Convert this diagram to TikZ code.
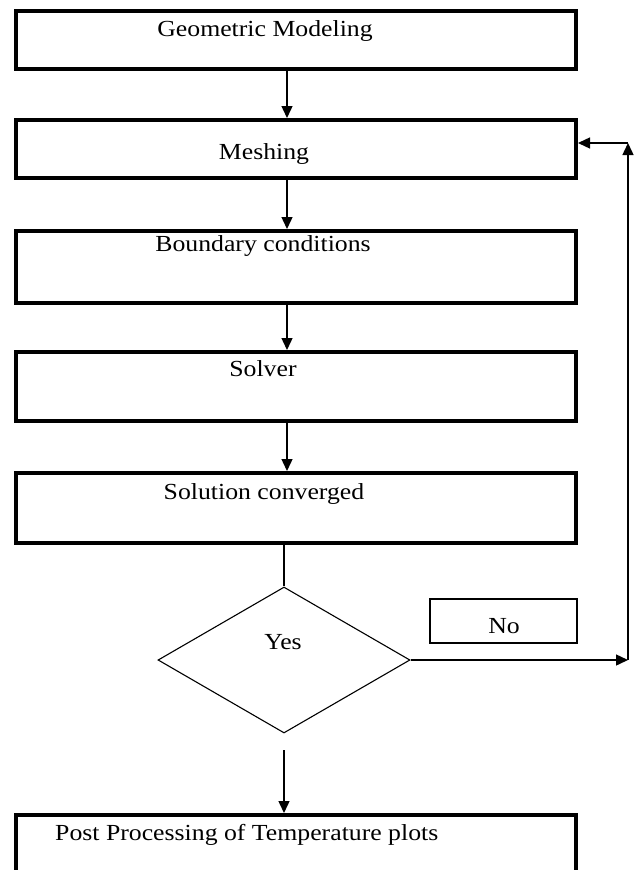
\documentclass[tikz,border=0pt]{standalone}
\usepackage{fontspec}
\setmainfont{Liberation Serif}[FakeStretch=1.12]
\usetikzlibrary{arrows.meta, shapes.geometric}

\begin{document}
\begin{tikzpicture}[
x=1pt, y=-1pt,
box/.style={draw,
rectangle,
line width=4pt,
minimum width=560pt,
inner sep=0pt},
lbl/.style={anchor=base,
inner sep=0pt,
font=\fontsize{23}{27}\selectfont},
arrow/.style={-{Triangle[width=11pt,length=12pt]}, line width=1.4pt}
]
\useasboundingbox (0,0) rectangle (635,870);

\node[box, minimum height=58pt] (geo) at (296,40) {};
\node[box, minimum height=58pt] (mesh) at (296,149) {};
\node[box, minimum height=72pt] (bc) at (296,267) {};
\node[box, minimum height=69pt] (solver) at (296,386.5) {};
\node[box, minimum height=70pt] (conv) at (296,508) {};
\node[draw, diamond, line width=1.1pt, inner sep=0pt, minimum width=252pt, minimum height=146pt] (yes) at (284,660) {};
\node[draw, rectangle, line width=1.3pt, minimum width=147pt, minimum height=44pt] (no) at (503.5,621) {};
\node[box, minimum height=90pt] (post) at (296,860) {};

\node[lbl] (geotxt) at (265,36) {Geometric Modeling};
\node[lbl] (meshtxt) at (264,159) {Meshing};
\node[lbl] (bctxt) at (263,251) {Boundary conditions};
\node[lbl] (soltxt) at (263,376) {Solver};
\node[lbl] (convtxt) at (264,499) {Solution converged};
\node[lbl] (yestxt) at (283,649) {Yes};
\node[lbl] (notxt) at (504,633) {No};
\node[lbl, anchor=base west] (posttxt) at (55,840) {Post Processing of Temperature plots};

\coordinate (spine) at (287,0);
\coordinate (gap) at (284,750);
\coordinate (rb) at (628,660);
\coordinate (rt) at (628,143);

\draw[arrow] (geo.south -| spine) -- (mesh.north -| spine);
\draw[arrow] (mesh.south -| spine) -- (bc.north -| spine);
\draw[arrow] (bc.south -| spine) -- (solver.north -| spine);
\draw[arrow] (solver.south -| spine) -- (conv.north -| spine);
\draw[line width=1.4pt] (conv.south -| yes.north) -- (yes.north);
\draw[arrow] (gap) -- (post.north -| gap);

\draw[arrow] (yes.east) -- (rb);
\draw[arrow] (rb) -- (rt);
\draw[arrow] (rt) -- (mesh.east |- rt);

\end{tikzpicture}
\end{document}
